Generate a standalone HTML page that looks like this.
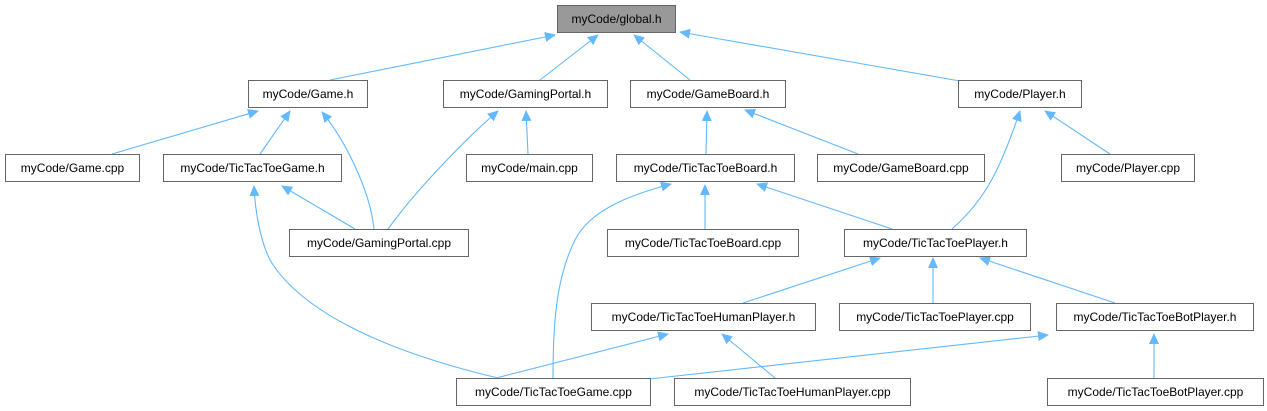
<!DOCTYPE html>
<html><head><meta charset="utf-8"><style>
html,body{margin:0;padding:0;background:#fff;width:1267px;height:411px;overflow:hidden}
svg text{font-family:"Liberation Sans",Arial,sans-serif;font-size:12px;fill:#000}
</style></head><body>
<svg width="1267" height="411" viewBox="0 0 1267 411" xmlns="http://www.w3.org/2000/svg">
<defs>
<marker id="a" markerWidth="11" markerHeight="10" refX="10" refY="5" orient="auto" markerUnits="userSpaceOnUse">
<path d="M0,0 L11,5 L0,10 z" fill="#63b8ff"/>
</marker>
</defs>
<g fill="none" stroke="#63b8ff" stroke-width="1.1" marker-end="url(#a)">
<path d="M330,80 L555,35"/>
<path d="M540,80 L598,35"/>
<path d="M690,80 L634,35"/>
<path d="M960,81 L680,32"/>
<path d="M112,154 L258,111"/>
<path d="M260,154 L290,111"/>
<path d="M374,229 C370,190 345,140 322,112"/>
<path d="M388,229 C420,185 470,135 498,111"/>
<path d="M528,154 L526,111"/>
<path d="M355,229 L282,186"/>
<path d="M498,378 C380,350 300,310 270,260 C260,240 255,210 254,186"/>
<path d="M706,154 L707,111"/>
<path d="M858,154 L745,110"/>
<path d="M705,229 L705,185"/>
<path d="M892,229 L757,184"/>
<path d="M553,378 C553,330 555,280 575,240 C590,210 630,195 671,184"/>
<path d="M952,229 C985,200 1000,170 1020,111"/>
<path d="M1110,154 L1045,111"/>
<path d="M743,303 L880,258"/>
<path d="M933,303 L933,258"/>
<path d="M1115,303 L980,258"/>
<path d="M496,378 L668,334"/>
<path d="M775,378 L722,334"/>
<path d="M649,379 L1048,335"/>
<path d="M1154,378 L1154,334"/>
</g>
<g stroke="#666" stroke-width="1" fill="#fff">
<rect x="557.5" y="5.5" width="118" height="27" fill="#999"/>
<rect x="248.5" y="80.5" width="119" height="27"/>
<rect x="443.5" y="80.5" width="164" height="27"/>
<rect x="630.5" y="80.5" width="155" height="27"/>
<rect x="958.5" y="80.5" width="123" height="27"/>
<rect x="5.5" y="154.5" width="134" height="27"/>
<rect x="163.5" y="154.5" width="178" height="27"/>
<rect x="466.5" y="154.5" width="126" height="27"/>
<rect x="616.5" y="154.5" width="178" height="27"/>
<rect x="817.5" y="154.5" width="167" height="27"/>
<rect x="1061.5" y="154.5" width="133" height="27"/>
<rect x="289.5" y="229.5" width="179" height="27"/>
<rect x="607.5" y="229.5" width="191" height="27"/>
<rect x="844.5" y="229.5" width="182" height="27"/>
<rect x="591.5" y="303.5" width="224" height="27"/>
<rect x="839.5" y="303.5" width="191" height="27"/>
<rect x="1056.5" y="303.5" width="197" height="27"/>
<rect x="456.5" y="378.5" width="194" height="27"/>
<rect x="674.5" y="378.5" width="236" height="27"/>
<rect x="1047.5" y="378.5" width="216" height="27"/>
</g>
<g text-anchor="middle">
<text x="616.5" y="23">myCode/global.h</text>
<text x="308" y="98">myCode/Game.h</text>
<text x="525.5" y="98">myCode/GamingPortal.h</text>
<text x="708" y="98">myCode/GameBoard.h</text>
<text x="1020" y="98">myCode/Player.h</text>
<text x="72.5" y="172">myCode/Game.cpp</text>
<text x="252.5" y="172">myCode/TicTacToeGame.h</text>
<text x="529.5" y="172">myCode/main.cpp</text>
<text x="705.5" y="172">myCode/TicTacToeBoard.h</text>
<text x="901" y="172">myCode/GameBoard.cpp</text>
<text x="1128" y="172">myCode/Player.cpp</text>
<text x="379" y="247">myCode/GamingPortal.cpp</text>
<text x="703" y="247">myCode/TicTacToeBoard.cpp</text>
<text x="935.5" y="247">myCode/TicTacToePlayer.h</text>
<text x="703.5" y="321">myCode/TicTacToeHumanPlayer.h</text>
<text x="935" y="321">myCode/TicTacToePlayer.cpp</text>
<text x="1155" y="321">myCode/TicTacToeBotPlayer.h</text>
<text x="553.5" y="396">myCode/TicTacToeGame.cpp</text>
<text x="792.5" y="396">myCode/TicTacToeHumanPlayer.cpp</text>
<text x="1155.5" y="396">myCode/TicTacToeBotPlayer.cpp</text>
</g>
</svg>
</body></html>
